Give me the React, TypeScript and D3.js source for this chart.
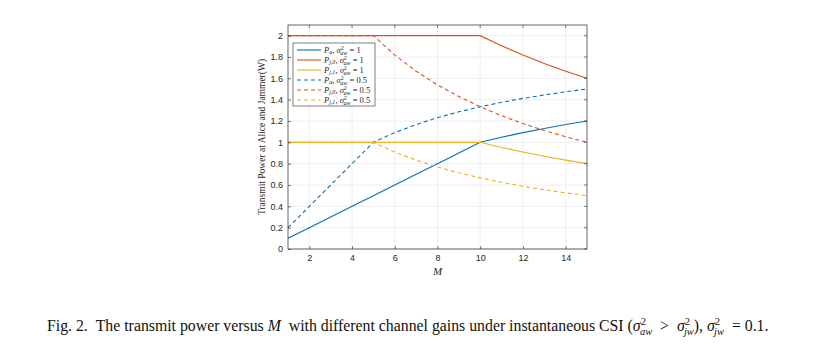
import { useRef, useEffect } from 'react';
import * as d3 from 'd3';

const WIDTH = 817;
const HEIGHT = 351;

const M = [1, 2, 3, 4, 5, 6, 7, 8, 9, 10, 11, 12, 13, 14, 15];
const xTicks = [2, 4, 6, 8, 10, 12, 14];
const yTicks = [0, 0.2, 0.4, 0.6, 0.8, 1, 1.2, 1.4, 1.6, 1.8, 2];

const paS1 = [0.1, 0.2, 0.3, 0.4, 0.5, 0.6, 0.7, 0.8, 0.9, 1.0, 1.048, 1.091, 1.13, 1.167, 1.2];
const pj0S1 = [2, 2, 2, 2, 2, 2, 2, 2, 2, 2, 1.905, 1.818, 1.739, 1.667, 1.6];
const pj1S1 = [1, 1, 1, 1, 1, 1, 1, 1, 1, 1, 0.952, 0.909, 0.87, 0.833, 0.8];
const paS05 = [0.2, 0.4, 0.6, 0.8, 1.0, 1.091, 1.167, 1.231, 1.286, 1.333, 1.375, 1.412, 1.444, 1.474, 1.5];
const pj0S05 = [2, 2, 2, 2, 2, 1.818, 1.667, 1.538, 1.429, 1.333, 1.25, 1.176, 1.111, 1.053, 1.0];
const pj1S05 = [1, 1, 1, 1, 1, 0.909, 0.833, 0.769, 0.714, 0.667, 0.625, 0.588, 0.556, 0.526, 0.5];

const seriesList = [
  { values: paS1, color: '#0072BD', dash: null, p: 'a', sub: 'aw', v: '1' },
  { values: pj0S1, color: '#D95319', dash: null, p: 'j,0', sub: 'aw', v: '1' },
  { values: pj1S1, color: '#EDB120', dash: null, p: 'j,1', sub: 'aw', v: '1' },
  { values: paS05, color: '#0072BD', dash: '4,3', p: 'a', sub: 'aw', v: '0.5' },
  { values: pj0S05, color: '#D95319', dash: '4,3', p: 'j,0', sub: 'aw', v: '0.5' },
  { values: pj1S05, color: '#EDB120', dash: '4,3', p: 'j,1', sub: 'aw', v: '0.5' },
];

const App = () => {
  const svgRef = useRef(null);

  useEffect(() => {
    const svg = d3.select(svgRef.current);
    svg.selectAll('*').remove();

    const margin = { left: 288, right: 230, top: 25, bottom: 102 };
    const width = WIDTH - margin.left - margin.right;
    const height = HEIGHT - margin.top - margin.bottom;

    const x = d3.scaleLinear().domain([1, 15]).range([0, width]);
    const y = d3.scaleLinear().domain([0, 2.1]).range([height, 0]);

    const g = svg.append('g')
      .attr('transform', `translate(${margin.left},${margin.top})`);

    g.append('rect')
      .attr('width', width).attr('height', height)
      .attr('fill', '#fff');

    // grid
    g.append('g').selectAll('line').data(xTicks).join('line')
      .attr('x1', d => x(d)).attr('x2', d => x(d))
      .attr('y1', 0).attr('y2', height)
      .attr('stroke', '#e6e6e6').attr('stroke-width', 0.7);
    g.append('g').selectAll('line').data(yTicks).join('line')
      .attr('x1', 0).attr('x2', width)
      .attr('y1', d => y(d)).attr('y2', d => y(d))
      .attr('stroke', '#e6e6e6').attr('stroke-width', 0.7);

    const line = d3.line<number>()
      .x((d, i) => x(M[i]))
      .y(d => y(d));

    seriesList.forEach(s => {
      g.append('path')
        .datum(s.values)
        .attr('fill', 'none')
        .attr('stroke', s.color)
        .attr('stroke-width', 1.1)
        .attr('stroke-dasharray', s.dash)
        .attr('d', line);
    });

    // axes
    const xAxis = g.append('g')
      .attr('transform', `translate(0,${height})`)
      .call(d3.axisBottom(x).tickValues(xTicks).tickSize(-3).tickPadding(6));
    const yAxis = g.append('g')
      .call(d3.axisLeft(y).tickValues(yTicks).tickSize(-3).tickPadding(5)
        .tickFormat(d => d3.format('~g')(d as number)));
    [xAxis, yAxis].forEach(a => {
      a.select('.domain').remove();
      a.selectAll('line').attr('stroke', '#262626').attr('stroke-width', 0.6);
      a.selectAll('text')
        .attr('fill', '#262626')
        .style('font-family', '"Liberation Sans", Arial, sans-serif')
        .style('font-size', '9px');
    });
    // top/right ticks
    g.append('g').selectAll('line').data(xTicks).join('line')
      .attr('x1', d => x(d)).attr('x2', d => x(d))
      .attr('y1', 0).attr('y2', 3)
      .attr('stroke', '#262626').attr('stroke-width', 0.6);
    g.append('g').selectAll('line').data(yTicks).join('line')
      .attr('x1', width - 3).attr('x2', width)
      .attr('y1', d => y(d)).attr('y2', d => y(d))
      .attr('stroke', '#262626').attr('stroke-width', 0.6);

    g.append('rect')
      .attr('width', width).attr('height', height)
      .attr('fill', 'none').attr('stroke', '#262626').attr('stroke-width', 0.7);

    // axis labels
    g.append('text')
      .attr('x', width / 2).attr('y', height + 26)
      .attr('text-anchor', 'middle')
      .style('font-family', '"Liberation Serif", serif')
      .style('font-style', 'italic')
      .style('font-size', '11px')
      .attr('fill', '#262626')
      .text('M');
    g.append('text')
      .attr('transform', `translate(-23,${height / 2}) rotate(-90)`)
      .attr('text-anchor', 'middle')
      .style('font-family', '"Liberation Serif", serif')
      .style('font-size', '9.5px')
      .attr('fill', '#262626')
      .text('Transmit Power at Alice and Jammer(W)');

    // legend
    const lg = g.append('g').attr('transform', 'translate(5,18)');
    lg.append('rect')
      .attr('width', 82).attr('height', 63)
      .attr('fill', '#fff').attr('stroke', '#262626').attr('stroke-width', 0.6);
    const rowH = 10;
    seriesList.forEach((s, i) => {
      const yy = 7 + i * rowH;
      lg.append('line')
        .attr('x1', 4).attr('x2', 28).attr('y1', yy).attr('y2', yy)
        .attr('stroke', s.color).attr('stroke-width', 1.1)
        .attr('stroke-dasharray', s.dash);
      const t = lg.append('text')
        .attr('x', 31).attr('y', yy + 2.5)
        .style('font-family', '"Liberation Serif", serif')
        .style('font-size', '8.5px')
        .attr('fill', '#262626');
      t.append('tspan').style('font-style', 'italic').text('P');
      t.append('tspan').attr('dy', 1.5).style('font-size', '6px').style('font-style', 'italic').text(s.p);
      t.append('tspan').attr('dy', -1.5).text(', ');
      t.append('tspan').style('font-style', 'italic').text('σ');
      t.append('tspan').attr('dy', -3).style('font-size', '6px').text('2');
      t.append('tspan').attr('dx', -3.3).attr('dy', 5).style('font-size', '6px').style('font-style', 'italic').text(s.sub);
      t.append('tspan').attr('dy', -2).text(` = ${s.v}`);
    });

    // caption
    const cap = svg.append('text')
      .attr('x', 47).attr('y', 331)
      .style('font-family', '"Liberation Serif", serif')
      .style('font-size', '15.8px')
      .attr('fill', '#111');
    const sigma = (sub: string) => {
      cap.append('tspan').style('font-style', 'italic').text('σ');
      cap.append('tspan').attr('dy', -6).style('font-size', '10.5px').text('2');
      cap.append('tspan').attr('dx', -6).attr('dy', 10).style('font-size', '10.5px').style('font-style', 'italic').text(sub);
    };
    cap.append('tspan').text('Fig. 2.\u00a0\u00a0The transmit power versus ');
    cap.append('tspan').style('font-style', 'italic').text('M');
    cap.append('tspan').text('\u00a0 with different channel gains under instantaneous CSI (');
    sigma('aw');
    cap.append('tspan').attr('dy', -4).text('\u00a0 > \u00a0');
    sigma('jw');
    cap.append('tspan').attr('dy', -4).text('), ');
    sigma('jw');
    cap.append('tspan').attr('dy', -4).text('\u00a0 = 0.1.');
  }, []);

  return (
    <svg ref={svgRef} width={WIDTH} height={HEIGHT}
      style={{ position: 'absolute', left: 0, top: 0, background: '#fff' }}></svg>
  );
};

export default App;
